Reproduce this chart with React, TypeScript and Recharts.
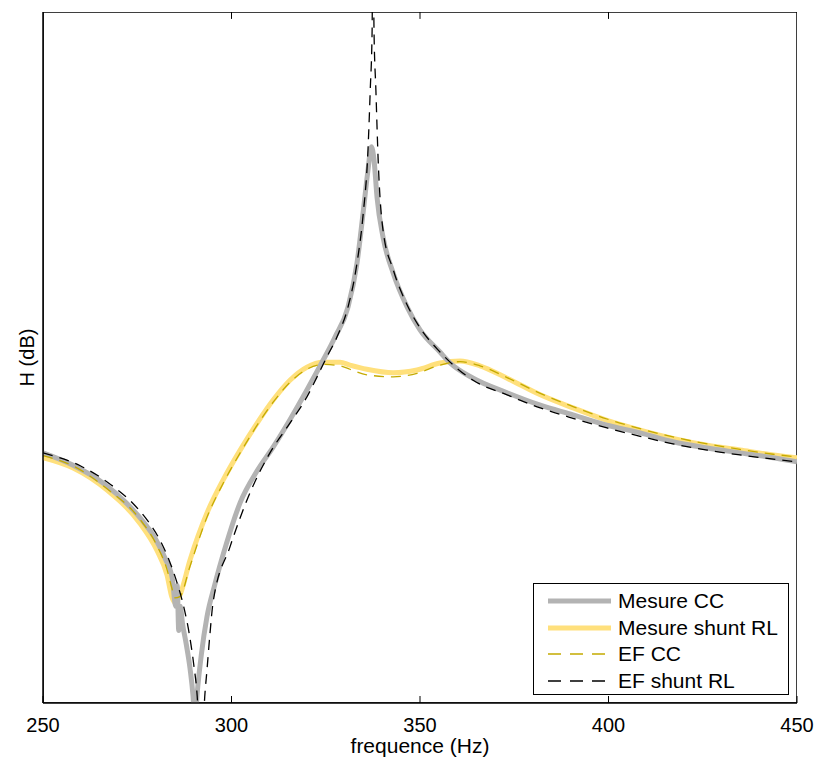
import React from 'react';
import { LineChart, Line, XAxis, YAxis, ReferenceArea, ReferenceLine } from 'recharts';

const FREQ_TICKS = [250, 300, 350, 400, 450];
const INNER_TICKS = [300, 350, 400];

// Mesure CC (grey, measured, short circuit)
const mesureCcFreq = [250, 258, 266, 272, 276.5, 280, 282.5, 284.3, 285.2, 285.6, 286.0, 286.4, 287.0, 288.0, 289.0, 289.8, 290.3, 290.9, 292.0, 293.5, 295.5, 298.5, 302.3, 306.8, 311.0, 315.5, 320.0, 324.3, 327.5, 330.9, 333.3, 334.9, 336.2, 337.1, 337.8, 338.6, 340.2, 342.9, 346.6, 350.0, 355.3, 358.0, 364.1, 373.1, 381.9, 390.6, 399.6, 408.4, 417.1, 426.2, 434.9, 443.7, 450];
const mesureCcDb = [36.2, 34.4, 31.8, 29.0, 26.3, 23.6, 20.8, 18.0, 14.0, 17.0, 10.5, 14.0, 11.5, 8.5, 5.0, 1.0, -3, 1.4, 7.0, 12.5, 17.0, 22.8, 29.0, 33.6, 37.0, 41.0, 45.3, 49.6, 53.0, 57.3, 63.7, 70.9, 77.1, 80.5, 78.6, 73.2, 67.4, 62.2, 57.3, 54.0, 50.8, 49.2, 47.0, 44.9, 43.1, 41.7, 40.2, 39.1, 37.8, 36.9, 36.2, 35.5, 34.9];

// Mesure shunt RL (yellow, measured)
const mesureRlFreq = [250, 258, 267, 275.7, 280.2, 282.9, 284.2, 285.0, 286.3, 289.0, 293.5, 297.8, 302.3, 306.8, 311.0, 315.5, 320.0, 324.3, 328.8, 331.4, 335.9, 342.9, 349.2, 355.3, 360.6, 365.9, 373.1, 381.9, 390.6, 399.6, 408.4, 417.1, 426.2, 434.9, 443.7, 450];
const mesureRlDb = [35.5, 34.0, 30.8, 26.0, 22.1, 18.5, 15.3, 14.5, 15.6, 20.7, 27.5, 32.3, 36.6, 40.5, 43.8, 46.7, 48.6, 49.3, 49.3, 48.9, 48.3, 47.8, 48.2, 49.2, 49.5, 48.8, 47.0, 44.6, 42.7, 40.9, 39.5, 38.3, 37.3, 36.6, 35.9, 35.5];

// EF CC (olive dashed, finite elements)
const efCcFreq = mesureRlFreq;
const efCcDb = [35.8, 34.3, 31.0, 26.6, 22.8, 19.3, 16.6, 15.2, 15.4, 19.8, 26.9, 31.8, 36.2, 40.2, 43.5, 46.4, 48.3, 49.0, 48.8, 48.3, 47.5, 47.2, 47.7, 48.9, 49.4, 48.8, 47.1, 44.8, 42.9, 41.1, 39.7, 38.5, 37.5, 36.7, 36.0, 35.6];

// EF shunt RL (black dashed, finite elements)
const efRlFreq = [250, 260, 268, 274, 278, 281, 283.5, 285.5, 287.3, 288.8, 290.0, 290.9, 291.9, 292.9, 293.5, 294.3, 295.1, 299.6, 304.9, 310.2, 315.5, 320.0, 322.7, 325.3, 328.0, 330.9, 333.3, 334.9, 336.2, 336.8, 337.3, 337.5, 337.8, 338.3, 338.9, 340.2, 342.9, 346.6, 350.0, 355.3, 364.1, 373.1, 381.9, 390.6, 399.6, 408.4, 417.1, 426.2, 434.9, 443.7, 450];
const efRlDb = [36.2, 34.3, 31.6, 28.8, 26.2, 23.6, 20.6, 17.5, 14.0, 10.0, 5.5, 1.0, -10, 0.9, 4.8, 10.1, 14.5, 22.6, 30.4, 36.2, 40.5, 44.3, 47.2, 50.1, 53.0, 57.3, 63.7, 70.6, 80.0, 88.7, 97.4, 115, 97.4, 88.7, 78.6, 68.4, 62.7, 57.6, 54.3, 50.8, 46.7, 44.6, 42.7, 41.2, 39.8, 38.6, 37.5, 36.6, 35.9, 35.3, 34.9];

const toPoints = (f: number[], h: number[]) => f.map((x, i) => ({ f: x, h: h[i] }));

const SERIES = [
  { name: 'Mesure shunt RL', data: toPoints(mesureRlFreq, mesureRlDb), color: '#ffe07c', width: 5, dash: undefined },
  { name: 'Mesure CC', data: toPoints(mesureCcFreq, mesureCcDb), color: '#b3b3b3', width: 5, dash: undefined },
  { name: 'EF CC', data: toPoints(efCcFreq, efCcDb), color: '#c4aa00', width: 1.3, dash: '10 7' },
  { name: 'EF shunt RL', data: toPoints(efRlFreq, efRlDb), color: '#000000', width: 1.3, dash: '10 7' },
];

const LEGEND_ORDER = ['Mesure CC', 'Mesure shunt RL', 'EF CC', 'EF shunt RL'];

const FONT = '"Liberation Sans", Arial, Helvetica, sans-serif';

const BottomTick = (props: any) => {
  const { x, y, payload } = props;
  return (
    <g>
      <line x1={x} y1={y} x2={x} y2={y - 7} stroke="#000" strokeWidth={1} />
      <text x={x} y={y + 29} textAnchor="middle" fontSize={20} fill="#000" fontFamily={FONT}>
        {payload.value}
      </text>
    </g>
  );
};

const renderYLabel = (props: any) => {
  const vb = props.viewBox || { x: 0, y: 12, width: 43, height: 691 };
  const cx = vb.x + 34;
  const cy = vb.y + vb.height / 2;
  return (
    <text x={cx} y={cy} transform={`rotate(-90 ${cx} ${cy})`} textAnchor="middle" fontSize={20} fill="#000" fontFamily={FONT}>
      H (dB)
    </text>
  );
};

const LegendBox = () => (
  <div
    style={{
      position: 'absolute',
      left: 533,
      top: 583,
      width: 254,
      height: 106,
      border: '1px solid #000',
      background: '#fff',
      paddingTop: 4,
      fontFamily: FONT,
      fontSize: 21,
      color: '#000',
    }}
  >
    {LEGEND_ORDER.map((name) => {
      const s = SERIES.find((d) => d.name === name)!;
      return (
        <div key={name} style={{ display: 'flex', alignItems: 'center', height: 26.5 }}>
          <svg width={84} height={26} style={{ flex: 'none' }}>
            <line
              x1={14}
              y1={13}
              x2={77}
              y2={13}
              stroke={s.color}
              strokeWidth={s.width}
              strokeDasharray={s.dash ? '13 9' : undefined}
            />
          </svg>
          <span style={{ whiteSpace: 'nowrap' }}>{name}</span>
        </div>
      );
    })}
  </div>
);

export default function App() {
  return (
    <div style={{ position: 'absolute', left: 0, top: 0, width: 820, height: 765, background: '#fff', fontFamily: FONT }}>
      <LineChart width={820} height={765} margin={{ top: 12, right: 23, bottom: 0, left: 0 }}>
        <XAxis
          dataKey="f"
          type="number"
          domain={[250, 450]}
          ticks={FREQ_TICKS}
          allowDataOverflow
          height={62}
          tickSize={0}
          tickMargin={0}
          tickLine={false}
          tick={<BottomTick />}
          axisLine={{ stroke: '#000', strokeWidth: 1.5 }}
          label={{ value: 'frequence (Hz)', position: 'insideBottom', offset: 12, fontSize: 21, fill: '#000', fontFamily: FONT }}
        />
        <YAxis
          type="number"
          domain={[0, 100]}
          allowDataOverflow
          width={43}
          ticks={[]}
          tick={false}
          tickLine={false}
          axisLine={{ stroke: '#000', strokeWidth: 1.5 }}
          label={renderYLabel}
        />
        {SERIES.map((s) => (
          <Line
            key={s.name}
            data={s.data}
            dataKey="h"
            name={s.name}
            type="monotone"
            stroke={s.color}
            strokeWidth={s.width}
            strokeDasharray={s.dash}
            dot={false}
            activeDot={false}
            isAnimationActive={false}
          />
        ))}
        <ReferenceArea x1={250} x2={450} y1={0} y2={100} fill="none" stroke="#000" strokeWidth={1.5} ifOverflow="hidden" />
        {INNER_TICKS.map((t) => (
          <ReferenceLine
            key={t}
            segment={[{ x: t, y: 100 }, { x: t, y: 99 }]}
            stroke="#000"
            strokeWidth={1}
            ifOverflow="hidden"
          />
        ))}
      </LineChart>
      <LegendBox />
    </div>
  );
}
